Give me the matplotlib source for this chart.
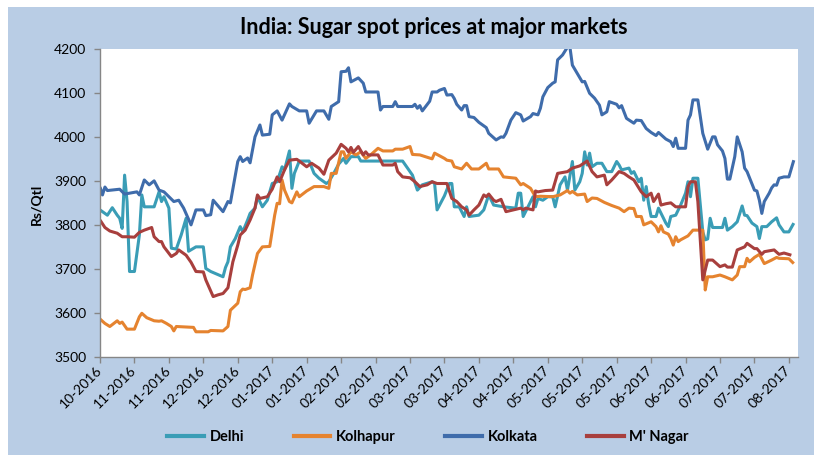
import matplotlib
matplotlib.use('Agg')
import matplotlib.pyplot as plt
import matplotlib.dates as mdates
import pandas as pd
from matplotlib.patches import Rectangle
from matplotlib.lines import Line2D

# sugar spot prices, Rs/Qtl
delhi_dates = [
    '2016-10-31', '2016-11-03', '2016-11-05', '2016-11-07', '2016-11-08', '2016-11-09', '2016-11-10',
    '2016-11-11', '2016-11-12', '2016-11-14', '2016-11-16', '2016-11-17', '2016-11-18', '2016-11-22',
    '2016-11-24', '2016-11-25', '2016-11-26', '2016-11-28', '2016-11-29', '2016-12-01', '2016-12-03',
    '2016-12-05', '2016-12-06', '2016-12-09', '2016-12-12', '2016-12-13', '2016-12-15', '2016-12-20',
    '2016-12-21', '2016-12-22', '2016-12-23', '2016-12-25', '2016-12-27', '2016-12-28', '2016-12-30',
    '2016-12-31', '2017-01-02', '2017-01-03', '2017-01-05', '2017-01-07', '2017-01-09', '2017-01-11',
    '2017-01-13', '2017-01-14', '2017-01-16', '2017-01-17', '2017-01-18', '2017-01-20', '2017-01-24',
    '2017-01-26', '2017-01-28', '2017-01-31', '2017-02-01', '2017-02-03', '2017-02-05', '2017-02-07',
    '2017-02-08', '2017-02-10', '2017-02-13', '2017-02-14', '2017-03-03', '2017-03-05', '2017-03-07',
    '2017-03-09', '2017-03-11', '2017-03-15', '2017-03-16', '2017-03-17', '2017-03-20', '2017-03-22',
    '2017-03-23', '2017-03-24', '2017-03-26', '2017-03-28', '2017-03-29', '2017-03-30', '2017-04-03',
    '2017-04-05', '2017-04-07', '2017-04-09', '2017-04-13', '2017-04-18', '2017-04-19', '2017-04-20',
    '2017-04-21', '2017-04-24', '2017-04-25', '2017-04-26', '2017-04-27', '2017-04-29', '2017-05-01',
    '2017-05-03', '2017-05-04', '2017-05-06', '2017-05-08', '2017-05-09', '2017-05-11', '2017-05-12',
    '2017-05-14', '2017-05-15', '2017-05-16', '2017-05-17', '2017-05-18', '2017-05-19', '2017-05-21',
    '2017-05-23', '2017-05-25', '2017-05-27', '2017-05-29', '2017-05-30', '2017-05-31', '2017-06-03',
    '2017-06-04', '2017-06-05', '2017-06-07', '2017-06-08', '2017-06-09', '2017-06-10', '2017-06-11',
    '2017-06-12', '2017-06-14', '2017-06-15', '2017-06-18', '2017-06-19', '2017-06-20', '2017-06-22',
    '2017-06-24', '2017-06-26', '2017-06-27', '2017-06-28', '2017-06-29', '2017-07-01', '2017-07-02',
    '2017-07-03', '2017-07-04', '2017-07-05', '2017-07-06', '2017-07-07', '2017-07-11', '2017-07-12',
    '2017-07-13', '2017-07-15', '2017-07-17', '2017-07-19', '2017-07-20', '2017-07-21', '2017-07-23',
    '2017-07-25', '2017-07-26', '2017-07-27', '2017-07-29', '2017-07-31', '2017-08-02', '2017-08-03',
    '2017-08-05', '2017-08-07', '2017-08-09']
delhi = [
    3835, 3823, 3840, 3823, 3816, 3793, 3914,
    3854, 3695, 3695, 3778, 3869, 3842, 3842,
    3876, 3854, 3865, 3839, 3748, 3746, 3778,
    3816, 3741, 3751, 3751, 3702, 3695, 3683,
    3704, 3717, 3751, 3770, 3797, 3785, 3812,
    3827, 3839, 3865, 3842, 3857, 3895, 3899,
    3933, 3926, 3969, 3884, 3918, 3946, 3946,
    3918, 3907, 3895, 3899, 3918, 3939, 3952,
    3941, 3956, 3956, 3946, 3946, 3930, 3914,
    3880, 3892, 3899, 3895, 3835, 3867, 3895,
    3895, 3842, 3842, 3820, 3842, 3820, 3823,
    3835, 3869, 3846, 3842, 3839, 3873, 3873,
    3820, 3854, 3865, 3842, 3861, 3857, 3865,
    3865, 3842, 3892, 3910, 3880, 3945, 3880,
    3899, 3918, 3967, 3937, 3964, 3933, 3941,
    3941, 3922, 3922, 3945, 3937, 3926, 3930,
    3918, 3922, 3899, 3907, 3857, 3888, 3848,
    3820, 3820, 3839, 3805, 3797, 3820, 3823,
    3846, 3873, 3899, 3865, 3907, 3907, 3846,
    3785, 3767, 3769, 3816, 3795, 3795, 3816,
    3789, 3797, 3808, 3844, 3823, 3822, 3805,
    3797, 3770, 3797, 3797, 3808, 3817, 3801,
    3785, 3785, 3805]

kolhapur_dates = [
    '2016-10-31', '2016-11-02', '2016-11-04', '2016-11-07', '2016-11-08', '2016-11-09', '2016-11-11',
    '2016-11-14', '2016-11-16', '2016-11-17', '2016-11-19', '2016-11-22', '2016-11-24', '2016-11-25',
    '2016-11-27', '2016-11-29', '2016-11-30', '2016-12-01', '2016-12-08', '2016-12-09', '2016-12-14',
    '2016-12-15', '2016-12-20', '2016-12-22', '2016-12-23', '2016-12-26', '2016-12-27', '2016-12-28',
    '2016-12-29', '2016-12-31', '2017-01-01', '2017-01-03', '2017-01-05', '2017-01-08', '2017-01-10',
    '2017-01-11', '2017-01-12', '2017-01-13', '2017-01-14', '2017-01-16', '2017-01-17', '2017-01-19',
    '2017-01-20', '2017-01-23', '2017-01-26', '2017-01-30', '2017-02-01', '2017-02-02', '2017-02-04',
    '2017-02-06', '2017-02-07', '2017-02-08', '2017-02-10', '2017-02-12', '2017-02-14', '2017-02-16',
    '2017-02-18', '2017-02-21', '2017-02-23', '2017-02-27', '2017-02-28', '2017-03-03', '2017-03-06',
    '2017-03-07', '2017-03-10', '2017-03-15', '2017-03-16', '2017-03-20', '2017-03-21', '2017-03-23',
    '2017-03-24', '2017-03-27', '2017-03-29', '2017-03-31', '2017-04-03', '2017-04-06', '2017-04-07',
    '2017-04-11', '2017-04-13', '2017-04-18', '2017-04-20', '2017-04-21', '2017-04-24', '2017-04-26',
    '2017-04-28', '2017-05-03', '2017-05-06', '2017-05-09', '2017-05-10', '2017-05-11', '2017-05-13',
    '2017-05-16', '2017-05-17', '2017-05-19', '2017-05-21', '2017-05-24', '2017-05-27', '2017-05-30',
    '2017-06-01', '2017-06-03', '2017-06-05', '2017-06-06', '2017-06-08', '2017-06-09', '2017-06-12',
    '2017-06-14', '2017-06-15', '2017-06-16', '2017-06-17', '2017-06-19', '2017-06-20', '2017-06-21',
    '2017-06-22', '2017-06-23', '2017-06-24', '2017-06-27', '2017-06-29', '2017-07-03', '2017-07-04',
    '2017-07-05', '2017-07-07', '2017-07-10', '2017-07-12', '2017-07-15', '2017-07-17', '2017-07-18',
    '2017-07-20', '2017-07-21', '2017-07-22', '2017-07-24', '2017-07-26', '2017-07-28', '2017-07-31',
    '2017-08-02', '2017-08-03', '2017-08-07', '2017-08-09']
kolhapur = [
    3587, 3577, 3570, 3583, 3577, 3580, 3564,
    3564, 3592, 3600, 3590, 3583, 3582, 3583,
    3577, 3570, 3560, 3570, 3568, 3558, 3558,
    3561, 3560, 3570, 3607, 3623, 3649, 3655,
    3654, 3658, 3687, 3736, 3751, 3752, 3823,
    3850, 3849, 3903, 3880, 3854, 3851, 3876,
    3865, 3878, 3888, 3888, 3884, 3918, 3918,
    3967, 3967, 3952, 3967, 3960, 3967, 3952,
    3960, 3975, 3969, 3969, 3973, 3973, 3979,
    3961, 3960, 3951, 3964, 3952, 3948, 3946,
    3933, 3928, 3941, 3928, 3928, 3941, 3928,
    3928, 3910, 3907, 3892, 3895, 3884, 3865,
    3866, 3865, 3869, 3879, 3873, 3877, 3869,
    3871, 3854, 3862, 3861, 3852, 3845, 3839,
    3831, 3839, 3838, 3820, 3820, 3801, 3808,
    3797, 3785, 3799, 3785, 3780, 3770, 3755,
    3774, 3763, 3767, 3776, 3789, 3789, 3653,
    3683, 3683, 3687, 3683, 3676, 3687, 3706,
    3706, 3725, 3717, 3727, 3734, 3713, 3721,
    3727, 3725, 3724, 3713]

kolkata_dates = [
    '2016-10-31', '2016-11-01', '2016-11-02', '2016-11-03', '2016-11-08', '2016-11-10', '2016-11-15',
    '2016-11-16', '2016-11-18', '2016-11-20', '2016-11-22', '2016-11-24', '2016-11-26', '2016-11-30',
    '2016-12-02', '2016-12-04', '2016-12-07', '2016-12-09', '2016-12-12', '2016-12-13', '2016-12-15',
    '2016-12-16', '2016-12-20', '2016-12-22', '2016-12-23', '2016-12-26', '2016-12-27', '2016-12-28',
    '2016-12-30', '2016-12-31', '2017-01-02', '2017-01-04', '2017-01-05', '2017-01-08', '2017-01-09',
    '2017-01-11', '2017-01-13', '2017-01-16', '2017-01-17', '2017-01-20', '2017-01-23', '2017-01-24',
    '2017-01-27', '2017-01-30', '2017-02-01', '2017-02-02', '2017-02-05', '2017-02-06', '2017-02-08',
    '2017-02-09', '2017-02-10', '2017-02-13', '2017-02-15', '2017-02-16', '2017-02-21', '2017-02-22',
    '2017-02-23', '2017-02-27', '2017-02-28', '2017-03-01', '2017-03-07', '2017-03-08', '2017-03-09',
    '2017-03-10', '2017-03-11', '2017-03-14', '2017-03-15', '2017-03-17', '2017-03-18', '2017-03-20',
    '2017-03-21', '2017-03-23', '2017-03-24', '2017-03-25', '2017-03-27', '2017-03-28', '2017-03-29',
    '2017-03-30', '2017-04-01', '2017-04-03', '2017-04-06', '2017-04-07', '2017-04-10', '2017-04-12',
    '2017-04-13', '2017-04-14', '2017-04-16', '2017-04-18', '2017-04-20', '2017-04-21', '2017-04-24',
    '2017-04-25', '2017-04-27', '2017-04-28', '2017-04-29', '2017-05-01', '2017-05-03', '2017-05-04',
    '2017-05-05', '2017-05-07', '2017-05-09', '2017-05-10', '2017-05-11', '2017-05-13', '2017-05-15',
    '2017-05-16', '2017-05-18', '2017-05-20', '2017-05-22', '2017-05-23', '2017-05-25', '2017-05-26',
    '2017-05-29', '2017-05-30', '2017-05-31', '2017-06-02', '2017-06-05', '2017-06-06', '2017-06-08',
    '2017-06-10', '2017-06-12', '2017-06-14', '2017-06-15', '2017-06-18', '2017-06-20', '2017-06-21',
    '2017-06-22', '2017-06-23', '2017-06-26', '2017-06-27', '2017-06-28', '2017-06-29', '2017-07-01',
    '2017-07-02', '2017-07-03', '2017-07-05', '2017-07-07', '2017-07-08', '2017-07-09', '2017-07-11',
    '2017-07-12', '2017-07-13', '2017-07-14', '2017-07-16', '2017-07-17', '2017-07-19', '2017-07-20',
    '2017-07-21', '2017-07-24', '2017-07-25', '2017-07-26', '2017-07-27', '2017-07-28', '2017-07-30',
    '2017-07-31', '2017-08-01', '2017-08-02', '2017-08-03', '2017-08-05', '2017-08-07', '2017-08-09']
kolkata = [
    3887, 3869, 3887, 3879, 3882, 3871, 3876,
    3869, 3903, 3892, 3901, 3880, 3876, 3854,
    3857, 3839, 3801, 3835, 3835, 3822, 3824,
    3857, 3831, 3854, 3851, 3945, 3956, 3945,
    3953, 3942, 4001, 4028, 4005, 4007, 4051,
    4060, 4039, 4076, 4070, 4060, 4060, 4032,
    4060, 4060, 4041, 4070, 4081, 4149, 4150,
    4158, 4126, 4135, 4123, 4103, 4103, 4062,
    4070, 4070, 4081, 4070, 4070, 4075, 4066,
    4072, 4060, 4082, 4103, 4103, 4107, 4111,
    4096, 4097, 4088, 4075, 4062, 4072, 4072,
    4047, 4045, 4034, 4022, 4009, 3994, 4001,
    4000, 4009, 4039, 4056, 4051, 4037, 4047,
    4054, 4051, 4066, 4092, 4113, 4123, 4126,
    4176, 4187, 4205, 4205, 4164, 4145, 4126,
    4127, 4100, 4089, 4073, 4051, 4058, 4081,
    4075, 4067, 4072, 4043, 4032, 4039, 4038,
    4020, 4011, 4004, 4011, 3996, 3990, 3979,
    3998, 3975, 3975, 4039, 4051, 4085, 4085,
    4047, 4009, 3973, 4001, 4001, 3983, 3969,
    3952, 3905, 3905, 3956, 4001, 3967, 3930,
    3922, 3880, 3878, 3857, 3827, 3854, 3873,
    3885, 3892, 3891, 3907, 3910, 3910, 3948]

mnagar_dates = [
    '2016-10-31', '2016-11-02', '2016-11-04', '2016-11-07', '2016-11-09', '2016-11-11', '2016-11-14',
    '2016-11-16', '2016-11-18', '2016-11-21', '2016-11-22', '2016-11-24', '2016-11-25', '2016-11-26',
    '2016-11-29', '2016-12-01', '2016-12-02', '2016-12-05', '2016-12-07', '2016-12-09', '2016-12-12',
    '2016-12-13', '2016-12-16', '2016-12-18', '2016-12-20', '2016-12-22', '2016-12-23', '2016-12-24',
    '2016-12-26', '2016-12-27', '2016-12-29', '2016-12-31', '2017-01-02', '2017-01-03', '2017-01-04',
    '2017-01-07', '2017-01-09', '2017-01-11', '2017-01-12', '2017-01-14', '2017-01-16', '2017-01-19',
    '2017-01-20', '2017-01-23', '2017-01-25', '2017-01-28', '2017-01-30', '2017-02-01', '2017-02-04',
    '2017-02-06', '2017-02-08', '2017-02-09', '2017-02-10', '2017-02-11', '2017-02-13', '2017-02-15',
    '2017-02-16', '2017-02-17', '2017-02-21', '2017-02-23', '2017-02-27', '2017-02-28', '2017-03-01',
    '2017-03-03', '2017-03-06', '2017-03-08', '2017-03-10', '2017-03-13', '2017-03-15', '2017-03-17',
    '2017-03-21', '2017-03-23', '2017-03-25', '2017-03-27', '2017-03-29', '2017-03-30', '2017-04-01',
    '2017-04-03', '2017-04-05', '2017-04-06', '2017-04-07', '2017-04-09', '2017-04-10', '2017-04-12',
    '2017-04-14', '2017-04-17', '2017-04-20', '2017-04-21', '2017-04-22', '2017-04-25', '2017-04-26',
    '2017-04-27', '2017-04-30', '2017-05-03', '2017-05-04', '2017-05-05', '2017-05-09', '2017-05-11',
    '2017-05-14', '2017-05-17', '2017-05-19', '2017-05-21', '2017-05-24', '2017-05-25', '2017-05-27',
    '2017-05-30', '2017-06-01', '2017-06-03', '2017-06-05', '2017-06-08', '2017-06-10', '2017-06-12',
    '2017-06-13', '2017-06-15', '2017-06-16', '2017-06-18', '2017-06-20', '2017-06-22', '2017-06-26',
    '2017-06-27', '2017-06-28', '2017-06-30', '2017-07-01', '2017-07-03', '2017-07-05', '2017-07-07',
    '2017-07-10', '2017-07-12', '2017-07-13', '2017-07-15', '2017-07-17', '2017-07-20', '2017-07-21',
    '2017-07-24', '2017-07-25', '2017-07-27', '2017-07-28', '2017-08-01', '2017-08-03', '2017-08-05',
    '2017-08-08']
mnagar = [
    3812, 3795, 3787, 3782, 3774, 3774, 3773,
    3784, 3789, 3795, 3774, 3763, 3763, 3751,
    3729, 3736, 3744, 3732, 3716, 3695, 3694,
    3676, 3638, 3642, 3645, 3658, 3687, 3717,
    3755, 3778, 3789, 3812, 3839, 3869, 3861,
    3865, 3882, 3910, 3899, 3926, 3948, 3950,
    3946, 3933, 3941, 3930, 3916, 3948, 3964,
    3984, 3975, 3967, 3977, 3966, 3979, 3960,
    3967, 3960, 3960, 3937, 3937, 3941, 3922,
    3910, 3908, 3899, 3888, 3892, 3899, 3895,
    3895, 3861, 3854, 3842, 3835, 3823, 3835,
    3846, 3869, 3865, 3871, 3857, 3854, 3859,
    3831, 3835, 3839, 3835, 3839, 3835, 3878,
    3876, 3879, 3880, 3899, 3918, 3922, 3930,
    3935, 3946, 3922, 3910, 3914, 3892, 3903,
    3922, 3918, 3910, 3903, 3876, 3865, 3873,
    3854, 3871, 3846, 3849, 3851, 3842, 3842,
    3888, 3899, 3899, 3854, 3676, 3721, 3721,
    3706, 3710, 3705, 3705, 3744, 3751, 3759,
    3747, 3747, 3734, 3740, 3744, 3734, 3737,
    3732]

series_names = ['Delhi', 'Kolhapur', 'Kolkata', "M' Nagar"]
series_colors = ['#3A9DB6', '#E5832F', '#3F6CAB', '#A83F3D']
series_data = [(delhi_dates, delhi), (kolhapur_dates, kolhapur),
               (kolkata_dates, kolkata), (mnagar_dates, mnagar)]

plt.rcParams['font.family'] = ['Lato', 'DejaVu Sans']

W, H = 814, 455
fig = plt.figure(figsize=(W / 100, H / 100), dpi=100, facecolor='white')
# light blue chart area, with a thin white edge at top and left
bg = Rectangle((8 / W, 0), 1, 1 - 7 / H, transform=fig.transFigure,
               facecolor='#B9CDE5', edgecolor='none', zorder=-10)
fig.add_artist(bg)

ax = fig.add_axes([100 / W, 1 - 357.3 / H, 697.5 / W, 308 / H])
ax.set_zorder(1)
ax.set_facecolor('white')

for (d, v), name, c in zip(series_data, series_names, series_colors):
    ax.plot(pd.to_datetime(d), v, color=c, lw=2.2, label=name,
            solid_joinstyle='round', solid_capstyle='butt')

ax.set_ylim(3500, 4200)
ax.set_yticks(range(3500, 4201, 100))
ax.set_xlim(pd.Timestamp('2016-10-31'), pd.Timestamp('2017-08-10 12:00'))
ax.set_xticks(pd.date_range('2016-10-31', '2017-08-07', freq='14D'))
ax.xaxis.set_major_formatter(mdates.DateFormatter('%m-%Y'))

for s in ['top', 'right']:
    ax.spines[s].set_visible(False)
for s in ['left', 'bottom']:
    ax.spines[s].set_color('#868686')
    ax.spines[s].set_linewidth(1)

ax.tick_params(direction='out', length=4, width=1, color='#868686',
               labelsize=10, labelcolor='black')
ax.tick_params(axis='y', pad=6)
ax.tick_params(axis='x', pad=4)
for lab in ax.get_xticklabels():
    lab.set_rotation(45)
    lab.set_ha('right')
    lab.set_va('center')
    lab.set_rotation_mode('anchor')

fig.text(434 / W, 1 - 27 / H, 'India: Sugar spot prices at major markets',
         ha='center', va='center', fontsize=15.5, fontweight='bold')
fig.text(37 / W, 1 - 204 / H, 'Rs/Qtl', rotation=90, ha='center', va='center',
         fontsize=10, fontweight='bold')

handles = [Line2D([], [], color=c, lw=3) for c in series_colors]
fig.legend(handles, series_names, loc='center', bbox_to_anchor=(428 / W, 1 - 437 / H),
           ncol=4, frameon=False, handlelength=2.5, handletextpad=0.4,
           columnspacing=3.4, prop={'weight': 'bold', 'size': 10.5})

fig.savefig('out.png', dpi=100, facecolor=fig.get_facecolor())
